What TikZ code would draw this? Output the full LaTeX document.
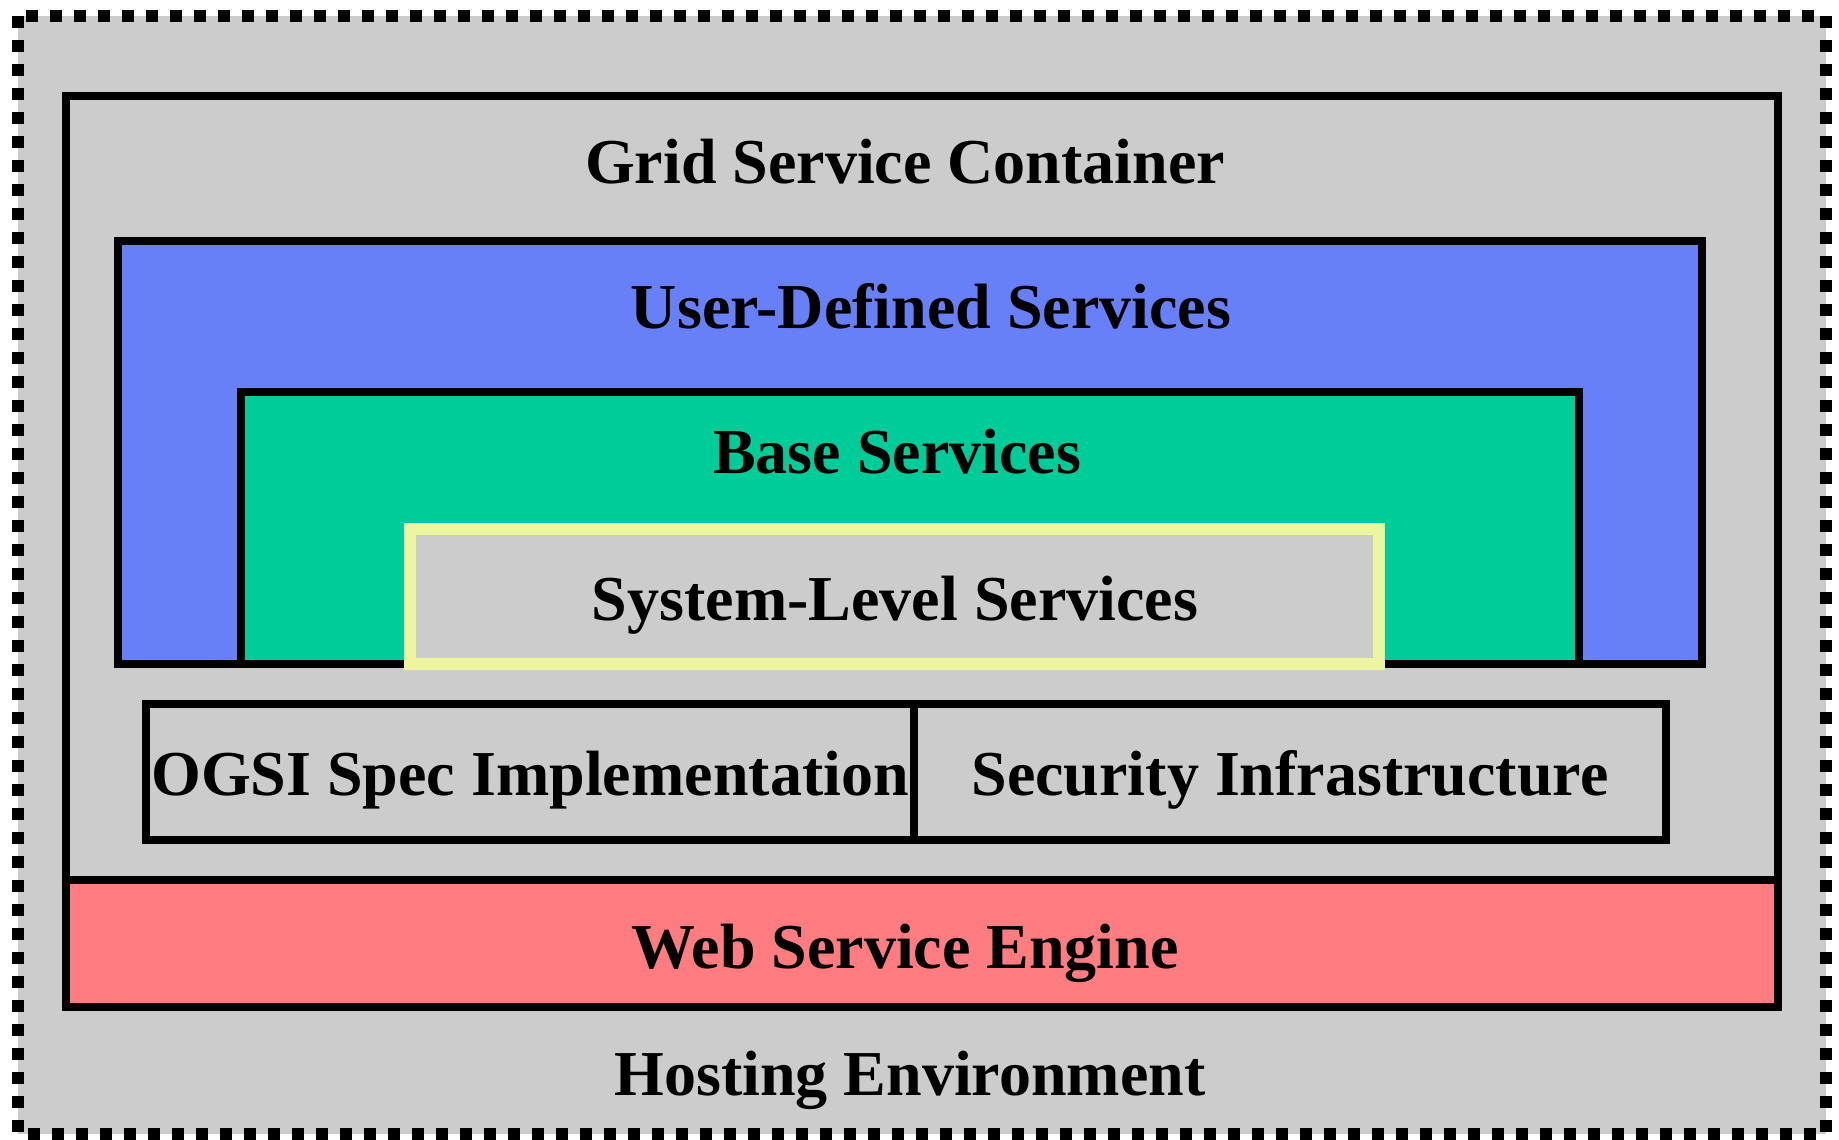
\documentclass[tikz,border=0pt]{standalone}
\usepackage{fontspec}
\setmainfont{Liberation Serif}
\definecolor{hostgray}{RGB}{204,204,204}
\definecolor{userblue}{RGB}{103,128,247}
\definecolor{basegreen}{RGB}{0,204,153}
\definecolor{syswhite}{RGB}{238,245,160}
\definecolor{enginered}{RGB}{255,125,128}
\begin{document}
\begin{tikzpicture}
[x=0.5pt,y=-0.5pt,
layer/.style={draw=black,line width=4pt},
host/.style={draw=black,fill=hostgray,line width=6pt,dash pattern=on 6pt off 6pt},
caption/.style={anchor=base,inner sep=0pt,font=\fontsize{32}{38}\selectfont\bfseries}]
\useasboundingbox (0,0) rectangle (1839,1139);
\draw[host] (18,16) rectangle (1826,1134);
\draw[layer,fill=hostgray] (66,96) rectangle (1778,1007);
\draw[layer,fill=userblue] (118,241) rectangle (1702,664);
\draw[layer,fill=basegreen] (241,392) rectangle (1579,664);
\draw[draw=syswhite,line width=6pt,fill=hostgray] (410,529) rectangle (1379,664);
\draw[layer] (146,704) rectangle (914,840);
\draw[layer] (914,704) rectangle (1666,840);
\draw[layer,fill=enginered] (66,880) rectangle (1778,1007);
\node[caption] (container) at (905,184) {Grid Service Container};
\node[caption] (user) at (931,328) {User-Defined Services};
\node[caption] (base) at (897,473) {Base Services};
\node[caption] (system) at (895,620) {System-Level Services};
\node[caption] (ogsi) at (530,795) {OGSI Spec Implementation};
\node[caption] (security) at (1290,795) {Security Infrastructure};
\node[caption] (engine) at (905,968) {Web Service Engine};
\node[caption] (hosting) at (910,1095) {Hosting Environment};
\end{tikzpicture}
\end{document}
